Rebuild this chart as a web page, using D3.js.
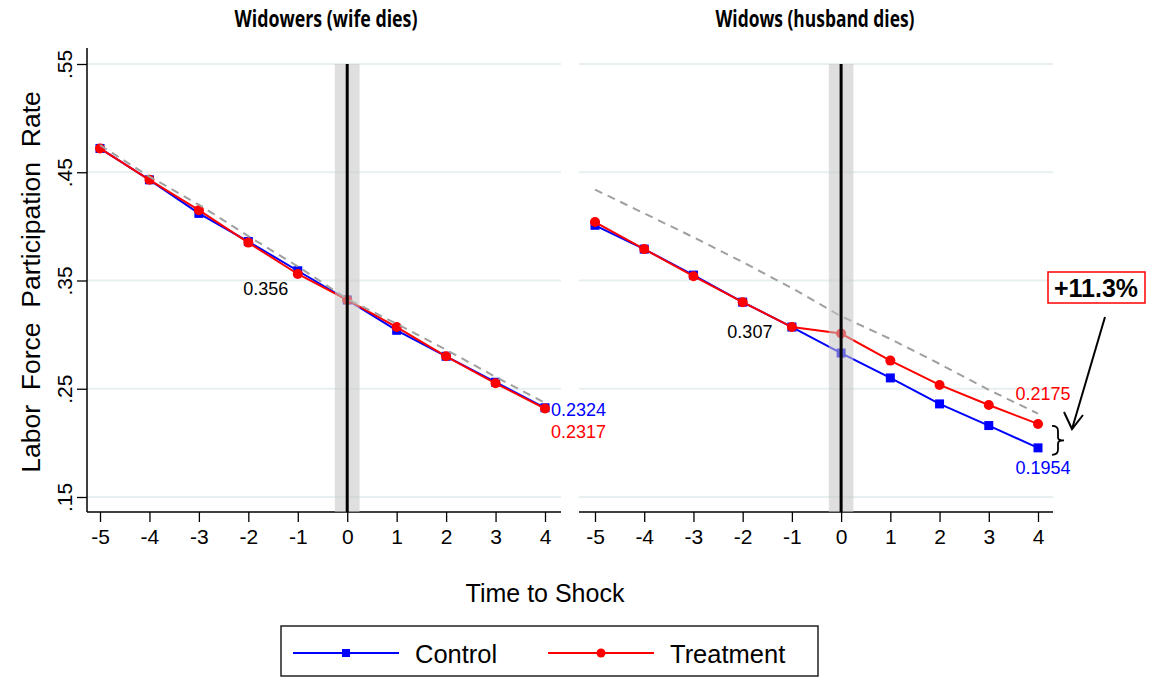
<!DOCTYPE html>
<html><head><meta charset="utf-8">
<script src="https://cdn.jsdelivr.net/npm/d3@7"></script>
<style>
body{margin:0;background:#fff;}
text{font-family:"Liberation Sans",Arial,sans-serif;}
</style></head>
<body><svg id="c" width="1154" height="677"></svg>
<script>
const years = [-5,-4,-3,-2,-1,0,1,2,3,4];
const yTicks = [0.15,0.25,0.35,0.45,0.55];
const yTickLabels = [".15",".25",".35",".45",".55"];
const panelTitles = ["Widowers (wife dies)","Widows (husband dies)"];
const seriesNames = ["Control","Treatment"];
const leftControl   = [0.472,0.443,0.412,0.386,0.359,0.332,0.304,0.280,0.256,0.2324];
const leftTreatment = [0.472,0.443,0.415,0.385,0.356,0.332,0.307,0.280,0.255,0.2317];
const leftTrend     = [0.475,0.446,0.420,0.391,0.363,0.333,0.310,0.286,0.261,0.237];
const rightControl   = [0.401,0.379,0.355,0.330,0.307,0.283,0.260,0.236,0.216,0.1954];
const rightTreatment = [0.404,0.379,0.354,0.330,0.307,0.301,0.276,0.2535,0.235,0.2175];
const rightTrend     = [0.434,0.412,0.390,0.367,0.343,0.317,0.296,0.273,0.249,0.227];
const effectLabel = "+11.3%";

const svg = d3.select("#c");
const y = d3.scaleLinear().domain([0.15,0.55]).range([497,64]);
const panels = [
  {title:panelTitles[0], x:d3.scaleLinear().domain([-5,4]).range([100,545]), x0:87, x1:561, titleX:326, titleW:183,
   control:leftControl, treat:leftTreatment, trend:leftTrend, yAxis:true},
  {title:panelTitles[1], x:d3.scaleLinear().domain([-5,4]).range([595,1038]), x0:579, x1:1053, titleX:815, titleW:199,
   control:rightControl, treat:rightTreatment, trend:rightTrend, yAxis:false}
];
const BLUE="#0000ff", RED="#ff0000";
const tickFont = "'Liberation Sans Narrow','Liberation Sans',sans-serif";

panels.forEach((p,pi)=>{
  const g = svg.append("g");
  g.selectAll("line.grid").data(yTicks).join("line")
    .attr("x1",p.x0).attr("x2",p.x1).attr("y1",d=>y(d)).attr("y2",d=>y(d))
    .attr("stroke","#e7eff1").attr("stroke-width",2);
  g.append("text").attr("x",p.titleX).attr("y",27).attr("text-anchor","middle")
    .attr("textLength",p.titleW).attr("lengthAdjust","spacingAndGlyphs")
    .style("font-family","'Open Sans',sans-serif").style("font-weight","bold").style("font-size","24px")
    .text(p.title);
  const xa = g.append("g").attr("transform","translate(0,512)")
    .call(d3.axisBottom(p.x).tickValues(years).tickSize(10).tickPadding(7).tickFormat(d=>String(d)));
  xa.select(".domain").remove();
  xa.selectAll("line").attr("stroke","#000").attr("stroke-width",1.3);
  xa.selectAll("text").style("font-size","21px").style("font-family",tickFont).attr("fill","#000");
  g.append("line").attr("x1",p.x0).attr("x2",p.x1).attr("y1",512).attr("y2",512).attr("stroke","#000").attr("stroke-width",1.5);
  if(p.yAxis){
    const ya = g.append("g").attr("transform",`translate(${p.x0},0)`)
      .call(d3.axisLeft(y).tickValues(yTicks).tickSize(10).tickFormat((d,i)=>yTickLabels[i]));
    ya.select(".domain").remove();
    ya.selectAll("line").attr("stroke","#000").attr("stroke-width",1.3);
    ya.selectAll("text").attr("x",0).attr("dy",0).attr("text-anchor","middle")
      .attr("transform","translate(-15,0) rotate(-90)")
      .style("font-size","21px").style("font-family",tickFont).attr("fill","#000");
    g.append("line").attr("x1",p.x0).attr("x2",p.x0).attr("y1",48).attr("y2",512).attr("stroke","#000").attr("stroke-width",1.5);
  }
  const line = arr => d3.line().x((d,i)=>p.x(years[i])).y(d=>y(d))(arr);
  g.append("path").attr("d",line(p.control)).attr("fill","none").attr("stroke",BLUE).attr("stroke-width",2);
  g.selectAll("rect.cm").data(p.control).join("rect")
    .attr("x",(d,i)=>p.x(years[i])-4.5).attr("y",d=>y(d)-4.5).attr("width",9).attr("height",9).attr("fill",BLUE);
  g.append("path").attr("d",line(p.treat)).attr("fill","none").attr("stroke",RED).attr("stroke-width",2);
  g.selectAll("circle.tm").data(p.treat).join("circle")
    .attr("cx",(d,i)=>p.x(years[i])).attr("cy",d=>y(d)).attr("r",5).attr("fill",RED);
  g.append("path").attr("d",line(p.trend)).attr("fill","none").attr("stroke","#a0a0a0").attr("stroke-width",2).attr("stroke-dasharray","8,6");
  g.append("rect").attr("x",p.x(-0.25)).attr("width",p.x(0.25)-p.x(-0.25)).attr("y",64).attr("height",448)
    .attr("fill","#c4c4c4").attr("opacity",0.55);
  g.append("line").attr("x1",p.x(0)).attr("x2",p.x(0)).attr("y1",64).attr("y2",512).attr("stroke","#000").attr("stroke-width",3);
});

const L = panels[0], R = panels[1];
function lab(txt,x,yy,anchor,color){
  svg.append("text").attr("x",x).attr("y",yy).attr("text-anchor",anchor).attr("fill",color)
    .style("font-size","18px").text(txt);
}
lab(d3.format(".3f")(leftTreatment[4]), L.x(-1)-32, y(leftTreatment[4])+21, "middle", "#000");
lab(d3.format(".4f")(leftControl[9]), L.x(4)+6, y(leftControl[9])+8, "start", BLUE);
lab(d3.format(".4f")(leftTreatment[9]), L.x(4)+6, y(leftTreatment[9])+29, "start", RED);
lab(d3.format(".3f")(rightTreatment[4]), R.x(-1)-42, y(rightTreatment[4])+11, "middle", "#000");
lab(d3.format(".4f")(rightTreatment[9]), R.x(4)+5, y(rightTreatment[9])-24, "middle", RED);
lab(d3.format(".4f")(rightControl[9]), R.x(4)+5, y(rightControl[9])+26, "middle", BLUE);

const bx = R.x(4)+14, by0 = y(rightTreatment[9])+2, by1 = y(rightControl[9])+7, bm=(by0+by1)/2;
svg.append("path").attr("fill","none").attr("stroke","#000").attr("stroke-width",1.8)
  .attr("d",`M${bx},${by0} Q${bx+6},${by0} ${bx+6},${by0+5} L${bx+6},${bm-3} Q${bx+6},${bm} ${bx+12},${bm} Q${bx+6},${bm} ${bx+6},${bm+3} L${bx+6},${by1-5} Q${bx+6},${by1} ${bx},${by1}`);
svg.append("line").attr("x1",1105).attr("y1",317).attr("x2",1072).attr("y2",429).attr("stroke","#000").attr("stroke-width",2);
svg.append("path").attr("fill","none").attr("stroke","#000").attr("stroke-width",2)
  .attr("d","M1064,412 L1072,429 L1083,415");
svg.append("rect").attr("x",1048).attr("y",272).attr("width",97).attr("height",31).attr("fill","#fff").attr("stroke",RED).attr("stroke-width",1.5);
svg.append("text").attr("x",1096).attr("y",297).attr("text-anchor","middle").style("font-weight","bold").style("font-size","25px").attr("fill","#000").text(effectLabel);

svg.append("text").attr("transform","translate(40,282) rotate(-90)").attr("text-anchor","middle")
  .style("font-size","26.5px").attr("fill","#000").attr("xml:space","preserve").text("Labor  Force  Participation  Rate");
svg.append("text").attr("x",545).attr("y",602).attr("text-anchor","middle").style("font-size","25px").attr("fill","#000").text("Time to Shock");

svg.append("rect").attr("x",281).attr("y",626).attr("width",537).attr("height",50).attr("fill","#fff").attr("stroke","#222").attr("stroke-width",1.5);
const leg = [{name:seriesNames[0],c:BLUE,x:293,shape:"sq"},{name:seriesNames[1],c:RED,x:548,shape:"ci"}];
leg.forEach(l=>{
  svg.append("line").attr("x1",l.x).attr("x2",l.x+106).attr("y1",653).attr("y2",653).attr("stroke",l.c).attr("stroke-width",2);
  if(l.shape==="sq") svg.append("rect").attr("x",l.x+53-4).attr("y",649).attr("width",8).attr("height",8).attr("fill",l.c);
  else svg.append("circle").attr("cx",l.x+53).attr("cy",653).attr("r",4.5).attr("fill",l.c);
  svg.append("text").attr("x",l.x+122).attr("y",663).style("font-size","25.5px").attr("fill","#000").text(l.name);
});
</script></body></html>
